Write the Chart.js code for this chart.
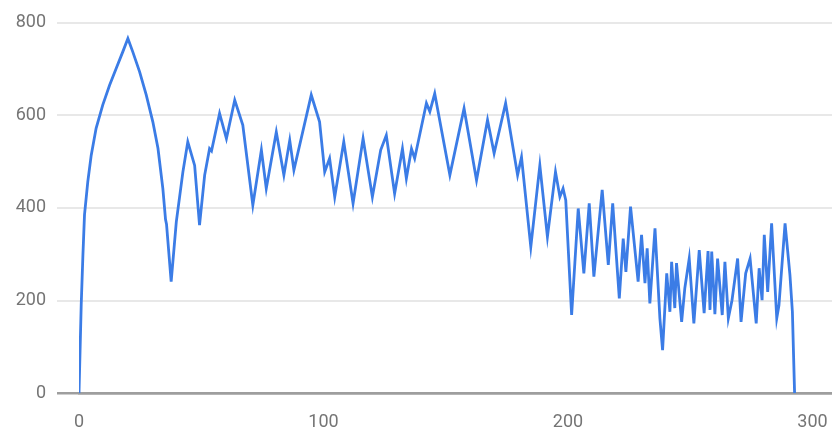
<!DOCTYPE html>
<html>
<head>
<meta charset="utf-8">
<script src="https://cdn.jsdelivr.net/npm/chart.js@4.4.1/dist/chart.umd.min.js"></script>
<style>
  html, body { margin: 0; padding: 0; background: #fff; }
  #wrap { width: 832px; height: 430px; position: relative; }
</style>
</head>
<body>
<div id="wrap"><canvas id="linechart"></canvas></div>
<script>
// values (x position, y value)
var xValues = [
  0, 0.9, 1.6, 2.25, 3.6, 5.0, 7.0, 9.7, 12.5, 15.2,
  17.9, 20.0, 22.0, 24.8, 27.5, 30.2, 32.3, 34.3, 35.4, 35.8,
  37.7, 39.8, 42.5, 44.5, 47.3, 49.3, 51.4,
  53.4, 54.2, 57.5, 60.3, 63.7, 67.0, 71.1, 74.6, 76.6, 80.7,
  83.8, 86.2, 87.9, 95.0, 98.4, 100.5, 102.5, 104.6, 108.3, 112.1,
  116.2, 120.0, 123.4, 125.7, 129.1, 132.3, 133.9, 136.0, 137.3, 142.1,
  143.5, 145.5, 151.7, 157.5, 162.6, 167.1, 169.8, 174.5, 179.4, 181.0,
  184.8, 188.5, 191.6, 194.9, 196.7, 198.0, 199.1, 201.5, 204.2, 206.5,
  208.7, 210.6, 214.0, 216.5, 218.3, 221.0, 222.6, 223.7, 225.6, 228.7,
  230.1, 231.5, 232.4, 233.5, 235.6, 237.6, 238.7, 240.4, 241.7, 242.4,
  243.7, 244.4, 246.5, 247.8, 249.6, 251.5, 253.7, 255.7, 257.3, 258.1,
  258.8, 260.1, 261.2, 263.1, 264.2, 265.6, 267.1, 269.4, 270.8, 272.7,
  274.5, 277.0, 278.2, 279.4, 280.3, 281.7, 283.3, 285.4, 286.3, 288.8,
  290.8, 291.8, 292.7
];
var yValues = [
  0, 190, 298, 385, 457, 514, 572, 622, 665, 701,
  737, 766, 737, 694, 644, 586, 529, 442, 375, 365,
  241, 370, 478, 543, 492, 363, 471,
  528, 523, 604, 550, 633, 579, 406, 525, 442, 564,
  471, 546, 482, 644, 586, 478, 507, 424, 543, 410,
  550, 424, 525, 557, 431, 528, 464, 528, 507, 626,
  608, 647, 471, 615, 460, 590, 518, 626, 471, 510,
  316, 492, 338, 478, 424, 442, 417, 169, 399, 259,
  410, 252, 439, 277, 410, 205, 334, 262, 403, 241,
  342, 238, 313, 194, 356, 162, 93, 259, 176, 284,
  184, 281, 154, 227, 291, 151, 309, 173, 307, 180,
  306, 171, 291, 169, 284, 162, 201, 291, 154, 259,
  291, 151, 270, 201, 342, 219, 367, 162, 190, 367,
  255, 176, 0
];
var xTicks = [0, 100, 200, 300];
var yTicks = [0, 200, 400, 600, 800];

function buildPoints(xs, ys) {
  var result = [];
  for (var i = 0; i < xs.length; i++) {
    result.push({ x: xs[i], y: ys[i] });
  }
  return result;
}

function noOverflow(s) {
  s.paddingTop = 0;
  s.paddingBottom = 0;
  s.paddingLeft = 0;
  s.paddingRight = 0;
}

var labelFont = { family: 'Roboto', size: 18 };

var ctx = document.getElementById('linechart').getContext('2d');
var lineChart = new Chart(ctx, {
  type: 'line',
  data: {
    datasets: [{
      data: buildPoints(xValues, yValues),
      borderColor: '#3b7ce6',
      borderWidth: 2.8,
      pointRadius: 0,
      tension: 0,
      fill: false
    }]
  },
  options: {
    responsive: true,
    maintainAspectRatio: false,
    animation: false,
    layout: { padding: 0 },
    plugins: { legend: { display: false }, tooltip: { enabled: false } },
    scales: {
      x: {
        type: 'linear',
        min: 0,
        max: 308,
        afterBuildTicks: function (s) {
          s.ticks = xTicks.map(function (v) { return { value: v }; });
        },
        afterFit: function (s) { s.height = 36.7; noOverflow(s); },
        grid: { display: false, drawTicks: false },
        border: { display: true, color: '#9e9e9e', width: 2.5 },
        ticks: { color: '#757575', font: labelFont, padding: 18, maxRotation: 0 }
      },
      y: {
        min: 0,
        max: 849,
        afterBuildTicks: function (s) {
          s.ticks = yTicks.map(function (v) { return { value: v }; });
        },
        afterFit: function (s) { s.width = 79; noOverflow(s); },
        grid: {
          color: function (c) { return c.tick && c.tick.value === 0 ? '#9e9e9e' : '#e8e8e8'; },
          lineWidth: function (c) { return c.tick && c.tick.value === 0 ? 2.5 : 2; },
          drawTicks: true,
          tickLength: 22
        },
        border: { display: false },
        ticks: { color: '#757575', font: labelFont, padding: 11 }
      }
    }
  }
});
</script>
</body>
</html>
